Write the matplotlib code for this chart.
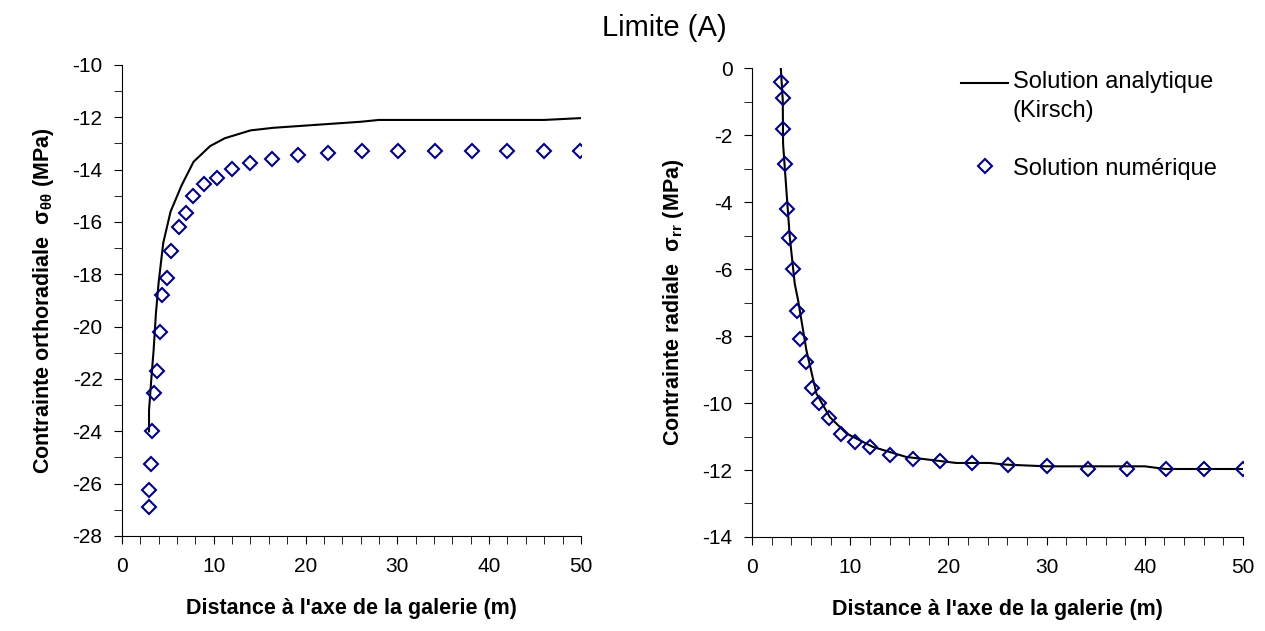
import numpy as np
import matplotlib
matplotlib.use("Agg")
import matplotlib.pyplot as plt
from matplotlib.ticker import MultipleLocator

# --- data ---
# left panel: orthoradial stress
x_num_tt = [2.94, 2.94, 3.13, 3.31, 3.53, 3.78, 4.14, 4.33, 4.94, 5.34, 6.18,
            6.98, 7.78, 8.98, 10.36, 12.0, 14.0, 16.4, 19.2, 22.4, 26.1, 30.1,
            34.1, 38.1, 41.95, 45.95, 49.95]
s_num_tt = [-26.89, -26.23, -25.26, -24.00, -22.52, -21.70, -20.21, -18.80,
            -18.13, -17.09, -16.19, -15.67, -15.01, -14.55, -14.32, -13.96,
            -13.75, -13.59, -13.45, -13.38, -13.29, -13.29, -13.29, -13.29,
            -13.29, -13.29, -13.29]
x_ana_tt = [2.95, 2.95, 3.2, 3.45, 3.7, 4.0, 4.5, 5.3, 6.5, 7.8, 9.6, 11.2,
            14.0, 16.5, 26.0, 28.0, 46.0, 50.0]
s_ana_tt = [-24.0, -23.2, -22.0, -20.9, -19.5, -18.3, -16.8, -15.6, -14.6,
            -13.7, -13.1, -12.8, -12.5, -12.4, -12.17, -12.1, -12.1, -12.03]

# right panel: radial stress
x_num_rr = [2.93, 3.13, 3.13, 3.37, 3.60, 3.77, 4.15, 4.59, 4.93, 5.54, 6.09,
            6.83, 7.85, 9.07, 10.44, 12.03, 14.07, 16.38, 19.13, 22.36, 26.1,
            30.04, 34.19, 38.16, 42.14, 46.08, 50.05]
s_num_rr = [-0.42, -0.90, -1.81, -2.87, -4.20, -5.06, -5.99, -7.26, -8.08,
            -8.78, -9.54, -10.0, -10.46, -10.93, -11.15, -11.32, -11.56,
            -11.67, -11.73, -11.79, -11.84, -11.89, -11.97, -11.97, -11.97,
            -11.97, -11.97]
x_ana_rr = [2.93, 3.13, 3.16, 3.5, 3.84, 4.35, 4.69, 5.54, 6.56, 7.92, 9.62,
            12.3, 15.7, 20.8, 24.2, 25.9, 30.0, 40.0, 42.1, 50.05]
s_ana_rr = [0.0, -0.96, -2.26, -3.65, -5.04, -6.44, -6.93, -8.43, -9.72,
            -10.42, -10.91, -11.31, -11.61, -11.79, -11.79, -11.84, -11.89,
            -11.89, -11.97, -11.97]

plt.rcParams["font.family"] = ["Liberation Sans", "DejaVu Sans"]
plt.rcParams["axes.unicode_minus"] = False

fig = plt.figure(figsize=(12.65, 6.31), dpi=100)
ax1 = fig.add_axes([0.0964, 0.1506, 0.3628, 0.7464])
ax2 = fig.add_axes([0.5945, 0.149, 0.3881, 0.743])

mk = dict(linestyle="none", marker="D", markersize=7.5, markerfacecolor="none",
          markeredgecolor="#000080", markeredgewidth=1.5)

for ax in (ax1, ax2):
    for side in ("top", "right"):
        ax.spines[side].set_visible(False)
    ax.set_xlim(0, 50)
    ax.xaxis.set_major_locator(MultipleLocator(10))
    ax.xaxis.set_minor_locator(MultipleLocator(2))
    ax.yaxis.set_major_locator(MultipleLocator(2))
    ax.yaxis.set_minor_locator(MultipleLocator(1))
    ax.tick_params(which="both", length=6, labelsize=15, color="black")
    ax.tick_params(axis="y", pad=8)
    ax.tick_params(axis="x", pad=9)
    ax.set_xlabel("Distance à l'axe de la galerie (m)", fontsize=15.5,
                  fontweight="bold", labelpad=16)

ax1.plot(x_ana_tt, s_ana_tt, color="black", linewidth=1.5)
ax1.plot(x_num_tt, s_num_tt, **mk)
ax1.set_ylim(-28, -10)
ax1.set_ylabel(r"Contrainte orthoradiale  $\mathregular{\sigma_{\theta\theta}}$ (MPa)",
               fontsize=15.5, fontweight="bold", labelpad=12)

ax2.plot(x_ana_rr, s_ana_rr, color="black", linewidth=1.5,
         label="Solution analytique\n(Kirsch)")
ax2.plot(x_num_rr, s_num_rr, label="Solution numérique", **mk)
ax2.set_ylim(-14, 0)
ax2.set_ylabel(r"Contrainte radiale  $\mathregular{\sigma_{rr}}$ (MPa)",
               fontsize=15.5, fontweight="bold", labelpad=12)
leg = ax2.legend(loc="upper right", bbox_to_anchor=(0.99, 1.04), frameon=False,
                 fontsize=17, handlelength=2.0, handletextpad=0.2,
                 labelspacing=1.5)
for t in leg.get_texts():
    t.set_linespacing(1.45)
# put the line handle next to the first text line, as in the reference
h = leg.legend_handles[0]
h.set_ydata(np.asarray(h.get_ydata()) + 10)

fig.text(0.525, 0.955, "Limite (A)", ha="center", va="center", fontsize=21)

fig.savefig("out.png", dpi=100)
